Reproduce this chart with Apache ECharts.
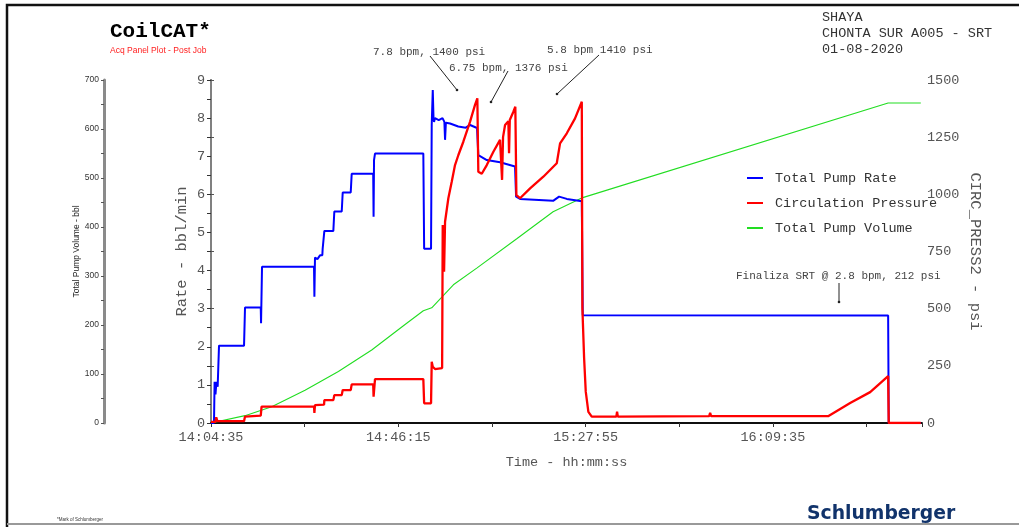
<!DOCTYPE html>
<html><head><meta charset="utf-8">
<script src="https://cdn.jsdelivr.net/npm/echarts@6/dist/echarts.min.js"></script>
<style>html,body{margin:0;padding:0;background:#fff}#c{width:1019px;height:527px}</style>
</head><body><div id="c"></div>
<script>
// ---- data (time = seconds elapsed since START_TIME) ----
const START_TIME = '14:04:35';
const timeLabelStep = 2500;       // 14:04:35, 14:46:15, 15:27:55, 16:09:35
const timeMax = 9490;
const seriesNames = ['Total Pump Rate', 'Circulation Pressure', 'Total Pump Volume'];

const rateData = [[0,0],[40,0],[48,1.08],[60,0.75],[72,1.08],[89,0.95],[100,1.0],[107,2.03],[441,2.03],[454,3.03],[664,3.03],[668,2.62],[681,4.1],[1375,4.1],[1380,3.31],[1388,4.34],[1420,4.3],[1445,4.3],[1455,4.4],[1486,4.4],[1490,4.56],[1509,4.56],[1513,5.04],[1633,5.04],[1646,5.55],[1745,5.55],[1758,6.05],[1865,6.05],[1878,6.54],[2165,6.54],[2170,5.41],[2176,6.9],[2189,7.07],[2834,7.07],[2845,4.57],[2937,4.57],[2946,7.82],[2960,8.74],[2970,8.0],[2977,7.9],[2990,8.0],[3040,7.95],[3090,8.0],[3115,7.9],[3124,7.43],[3135,7.88],[3191,7.86],[3300,7.78],[3400,7.75],[3458,7.82],[3551,7.74],[3568,7.03],[3681,6.9],[3858,6.84],[4058,6.73],[4072,5.94],[4125,5.88],[4566,5.83],[4646,5.94],[4749,5.88],[4949,5.82],[4962,2.83],[9038,2.82],[9046,0],[9474,0]];

const pressureData = [[0,5],[60,5],[70,25],[85,8],[441,8],[454,28],[664,32],[675,72],[1375,72],[1380,44],[1388,78],[1509,80],[1513,100],[1633,100],[1646,122],[1745,122],[1758,144],[1865,144],[1878,169],[2165,169],[2170,115],[2189,192],[2834,192],[2845,86],[2937,86],[2946,268],[2960,246],[2990,236],[3085,240],[3093,866],[3111,662],[3124,880],[3168,983],[3213,1055],[3257,1128],[3302,1172],[3368,1230],[3458,1318],[3524,1391],[3555,1420],[3568,1099],[3614,1090],[3681,1128],[3769,1186],[3858,1238],[3876,1240],[3885,1063],[3898,1250],[3925,1303],[3969,1320],[3978,1180],[3988,1325],[4036,1361],[4062,1383],[4076,997],[4125,983],[4259,1026],[4436,1077],[4615,1136],[4659,1223],[4749,1267],[4859,1332],[4949,1405],[4957,503],[4980,284],[5002,137],[5037,49],[5082,28],[5410,28],[5420,50],[5430,28],[6650,30],[6662,45],[6675,30],[8237,30],[8531,87],[8798,135],[9038,205],[9046,0],[9474,0]];

const volumeData = [[0,0],[454,15],[810,33],[1255,67],[1700,105],[2145,149],[2590,201],[2834,229],[2946,235],[3235,282],[3547,316],[4081,376],[4566,431],[4962,460],[9038,653],[9474,653]];

const rateAxis = {min:0, max:9, step:0.5, labelStep:1};
const pressAxis = {min:0, max:1500, step:250};
const volAxis = {min:0, max:700, step:50, labelStep:100};

const annotations = [
  {text:'7.8 bpm, 1400 psi'},
  {text:'6.75 bpm, 1376 psi'},
  {text:'5.8 bpm 1410 psi'},
  {text:'Finaliza SRT @ 2.8 bpm, 212 psi'}
];
const headerLines = ['SHAYA', 'CHONTA SUR A005 - SRT', '01-08-2020'];

// ---- helpers ----
const MONO = "'Liberation Mono','DejaVu Sans Mono',monospace";
const SANS = "'Liberation Sans',Arial,sans-serif";
const startSec = START_TIME.split(':').reduce((a,b)=>a*60+ +b, 0);
function fmtTime(v){
  let s = Math.round(startSec + v);
  const h = Math.floor(s/3600); s -= h*3600;
  const m = Math.floor(s/60); s -= m*60;
  const p = n => String(n).padStart(2,'0');
  return p(h)+':'+p(m)+':'+p(s);
}
const isMult = (v, k) => Math.abs(v/k - Math.round(v/k)) < 1e-6;

const chart = echarts.init(document.getElementById('c'), null, {renderer:'canvas'});

function txt(text, x, y, font, fill, align){
  return {type:'text', silent:true, style:{text, x, y, font, fill: fill||'#555', textAlign: align||'left', textVerticalAlign:'middle', verticalAlign:'middle'}};
}
function arrow(x1,y1,x2,y2){
  return [
    {type:'line', silent:true, shape:{x1,y1,x2,y2}, style:{stroke:'#222', lineWidth:1}},
    {type:'circle', silent:true, shape:{cx:x2, cy:y2, r:1.3}, style:{fill:'#222'}}
  ];
}

const graphics = [
  {type:'polyline', silent:true, shape:{points:[[7,527],[7,5],[1019,5]]}, style:{stroke:'#111', lineWidth:2.5, fill:null}},
  {type:'line', silent:true, shape:{x1:7,y1:524,x2:1019,y2:524}, style:{stroke:'#999', lineWidth:2}},
  txt('CoilCAT*', 110, 32, 'bold 21px '+MONO, '#000'),
  txt('Acq Panel Plot - Post Job', 110, 51, '8.5px '+SANS, '#ff2020'),
  txt(headerLines[0], 822, 17, '13.5px '+MONO, '#333'),
  txt(headerLines[1], 822, 33, '13.5px '+MONO, '#333'),
  txt(headerLines[2], 822, 49, '13.5px '+MONO, '#333'),
  txt(annotations[0].text, 373, 52, '11px '+MONO, '#444'),
  txt(annotations[1].text, 449, 68, '11px '+MONO, '#444'),
  txt(annotations[2].text, 547, 50, '11px '+MONO, '#444'),
  txt(annotations[3].text, 736, 276, '11px '+MONO, '#444'),
  ...arrow(430,56,457,90),
  ...arrow(508,71,491,102),
  ...arrow(599,55,557,94),
  ...arrow(839,283,839,302),
  txt('*Mark of Schlumberger', 57, 520, '4.5px '+SANS, '#333'),
  txt('Schlumberger', 807, 514, 'bold 18.8px "DejaVu Sans",sans-serif', '#11336b')
];

const option = {
  animation:false,
  backgroundColor:'#fff',
  grid:{left:211, right:97, top:80, bottom:104, containLabel:false},
  legend:{
    data:seriesNames, orient:'vertical', left:742, top:166, icon:'rect',
    itemWidth:16, itemHeight:2, itemGap:11,
    textStyle:{fontFamily:MONO, fontSize:13.5, color:'#333', padding:[0,0,0,7]}
  },
  xAxis:[
    {type:'value', position:'bottom', min:0, max:timeMax, interval:timeLabelStep/2,
     axisLine:{lineStyle:{color:'#000', width:1.5}},
     axisTick:{show:true, inside:false, length:4, lineStyle:{color:'#333'}},
     splitLine:{show:false},
     axisLabel:{showMaxLabel:false, margin:7, fontFamily:MONO, fontSize:13.5, color:'#555',
       formatter:v => isMult(v, timeLabelStep) ? fmtTime(v) : ''},
     name:'Time - hh:mm:ss', nameLocation:'middle', nameGap:32,
     nameTextStyle:{fontFamily:MONO, fontSize:13.5, color:'#555'}},
    {type:'value', position:'top', min:0, max:timeMax, interval:timeLabelStep/2,
     axisLine:{lineStyle:{color:'#000', width:1.5}},
     axisTick:{show:true, inside:true, length:4, lineStyle:{color:'#333'}},
     axisLabel:{show:false}, splitLine:{show:false}}
  ],
  yAxis:[
    {type:'value', position:'left', min:rateAxis.min, max:rateAxis.max, interval:rateAxis.step,
     axisLine:{show:true, lineStyle:{color:'#000', width:1.5}},
     axisTick:{show:true, length:4, lineStyle:{color:'#333'}},
     splitLine:{show:false},
     axisLabel:{margin:6, fontFamily:MONO, fontSize:13.5, color:'#555',
       formatter:v => isMult(v, rateAxis.labelStep) ? String(v) : ''},
     name:'Rate - bbl/min', nameLocation:'middle', nameRotate:90, nameGap:21, nameMoveOverlap:false,
     nameTextStyle:{fontFamily:MONO, fontSize:15.5, color:'#555'}},
    {type:'value', position:'right', min:pressAxis.min, max:pressAxis.max, interval:pressAxis.step,
     axisLine:{show:true, lineStyle:{color:'#808080', width:2}},
     axisTick:{show:true, length:3, lineStyle:{color:'#555'}},
     splitLine:{show:false},
     axisLabel:{margin:5, fontFamily:MONO, fontSize:13.5, color:'#555', formatter:v => String(v)},
     name:'CIRC_PRESS2 - psi', nameLocation:'middle', nameRotate:-90, nameGap:45, nameMoveOverlap:false,
     nameTextStyle:{fontFamily:MONO, fontSize:15.5, color:'#555'}},
    {type:'value', position:'left', offset:107, min:volAxis.min, max:volAxis.max, interval:volAxis.step,
     axisLine:{show:true, lineStyle:{color:'#8a8a8a', width:3}},
     axisTick:{show:true, length:3, lineStyle:{color:'#555'}},
     splitLine:{show:false},
     axisLabel:{margin:5, fontFamily:SANS, fontSize:8.5, color:'#333',
       formatter:v => isMult(v, volAxis.labelStep) ? String(v) : ''},
     name:'Total Pump Volume - bbl', nameLocation:'middle', nameRotate:90, nameGap:22.5, nameMoveOverlap:false,
     nameTextStyle:{fontFamily:SANS, fontSize:8.5, color:'#222'}}
  ],
  series:[
    {name:seriesNames[0], type:'line', xAxisIndex:0, yAxisIndex:0, data:rateData, showSymbol:false, symbol:'none',
     lineStyle:{color:'#0000ff', width:2}, itemStyle:{color:'#0000ff'}, z:3},
    {name:seriesNames[1], type:'line', xAxisIndex:0, yAxisIndex:1, data:pressureData, showSymbol:false, symbol:'none',
     lineStyle:{color:'#ff0000', width:2.3}, itemStyle:{color:'#ff0000'}, z:4},
    {name:seriesNames[2], type:'line', xAxisIndex:0, yAxisIndex:2, data:volumeData, showSymbol:false, symbol:'none',
     lineStyle:{color:'#22dd22', width:1.1}, itemStyle:{color:'#22dd22'}, z:2}
  ],
  graphic:graphics
};
chart.setOption(option);
</script></body></html>
